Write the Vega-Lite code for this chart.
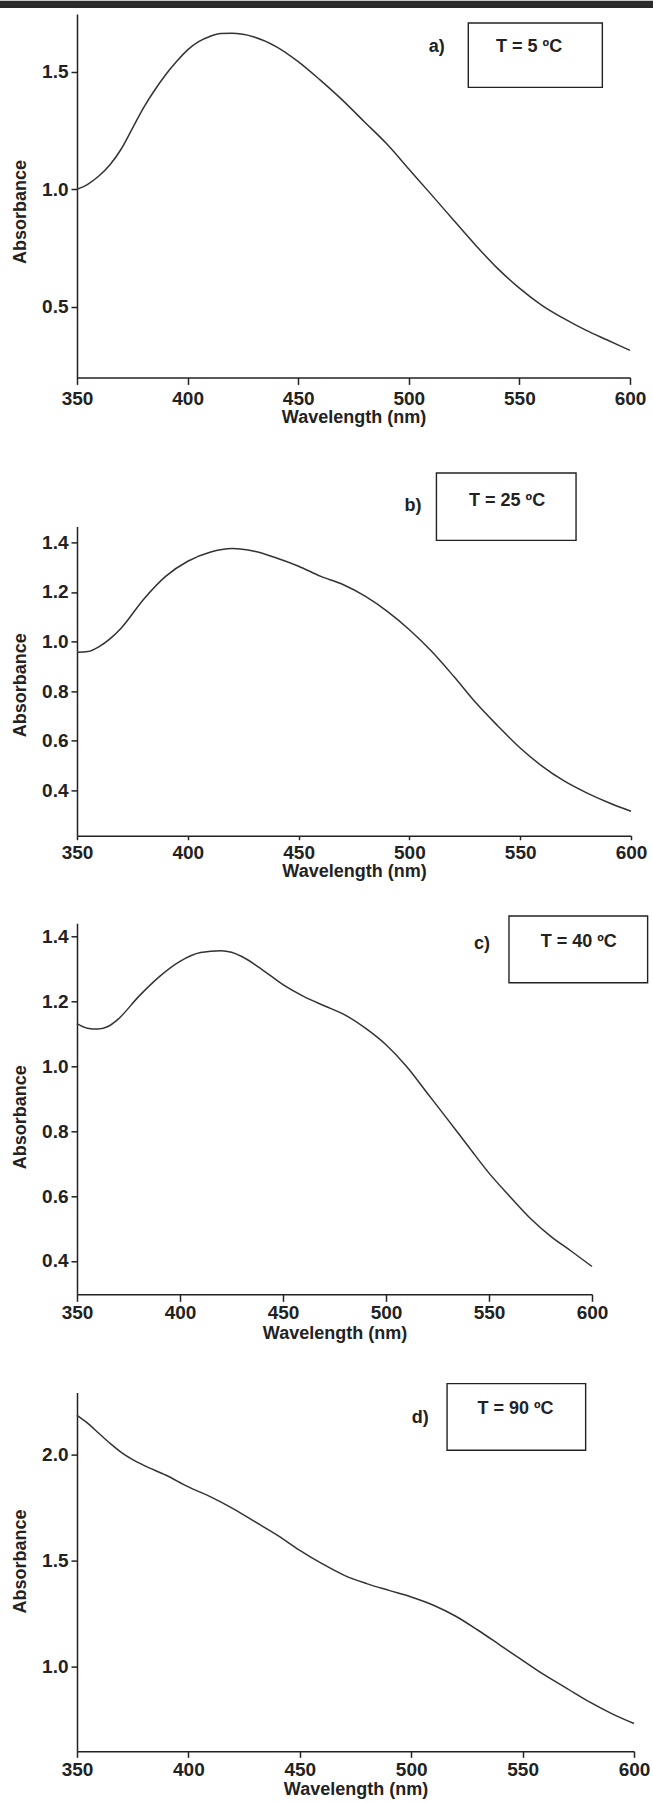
{
  "$schema": "https://vega.github.io/schema/vega-lite/v6.json",
  "background": "white",
  "padding": {"left": 0, "top": 0, "right": 0, "bottom": 0},
  "autosize": {"type": "pad"},
  "config": {
    "view": {"stroke": null},
    "font": "Liberation Sans",
    "axis": {
      "grid": false,
      "domainColor": "#222",
      "domainWidth": 1.5,
      "tickColor": "#222",
      "tickWidth": 1.5,
      "labelFont": "Liberation Sans",
      "labelFontSize": 19,
      "labelFontWeight": "bold",
      "labelColor": "#222",
      "labelFlush": false,
      "titleFont": "Liberation Sans",
      "titleFontSize": 18,
      "titleFontWeight": "bold",
      "titleColor": "#222"
    }
  },
  "datasets": {
    "a": [
      {"wl": 350, "abs": 1.0}, {"wl": 355, "abs": 1.022}, {"wl": 360, "abs": 1.057}, {"wl": 365, "abs": 1.105},
      {"wl": 370, "abs": 1.171}, {"wl": 375, "abs": 1.258}, {"wl": 380, "abs": 1.345}, {"wl": 385, "abs": 1.42},
      {"wl": 390, "abs": 1.486}, {"wl": 395, "abs": 1.543}, {"wl": 400, "abs": 1.593}, {"wl": 405, "abs": 1.628},
      {"wl": 410, "abs": 1.65}, {"wl": 415, "abs": 1.663}, {"wl": 420, "abs": 1.664}, {"wl": 425, "abs": 1.659},
      {"wl": 430, "abs": 1.648}, {"wl": 440, "abs": 1.607}, {"wl": 450, "abs": 1.543}, {"wl": 460, "abs": 1.464},
      {"wl": 470, "abs": 1.379}, {"wl": 480, "abs": 1.286}, {"wl": 490, "abs": 1.193}, {"wl": 500, "abs": 1.086},
      {"wl": 510, "abs": 0.979}, {"wl": 520, "abs": 0.871}, {"wl": 530, "abs": 0.764}, {"wl": 540, "abs": 0.664},
      {"wl": 550, "abs": 0.579}, {"wl": 560, "abs": 0.507}, {"wl": 570, "abs": 0.45}, {"wl": 580, "abs": 0.40},
      {"wl": 590, "abs": 0.357}, {"wl": 600, "abs": 0.314}
    ],
    "b": [
      {"wl": 350, "abs": 0.957}, {"wl": 355, "abs": 0.96}, {"wl": 360, "abs": 0.98}, {"wl": 365, "abs": 1.012},
      {"wl": 370, "abs": 1.055}, {"wl": 380, "abs": 1.17}, {"wl": 390, "abs": 1.263}, {"wl": 400, "abs": 1.324},
      {"wl": 410, "abs": 1.36}, {"wl": 420, "abs": 1.375}, {"wl": 430, "abs": 1.364}, {"wl": 440, "abs": 1.337},
      {"wl": 450, "abs": 1.304}, {"wl": 460, "abs": 1.263}, {"wl": 470, "abs": 1.23}, {"wl": 480, "abs": 1.183},
      {"wl": 490, "abs": 1.122}, {"wl": 500, "abs": 1.048}, {"wl": 510, "abs": 0.961}, {"wl": 520, "abs": 0.86},
      {"wl": 530, "abs": 0.753}, {"wl": 540, "abs": 0.659}, {"wl": 550, "abs": 0.571}, {"wl": 560, "abs": 0.497},
      {"wl": 570, "abs": 0.437}, {"wl": 580, "abs": 0.39}, {"wl": 590, "abs": 0.35}, {"wl": 600, "abs": 0.316}
    ],
    "c": [
      {"wl": 350, "abs": 1.132}, {"wl": 355, "abs": 1.118}, {"wl": 360, "abs": 1.115}, {"wl": 365, "abs": 1.123},
      {"wl": 370, "abs": 1.146}, {"wl": 380, "abs": 1.216}, {"wl": 390, "abs": 1.277}, {"wl": 400, "abs": 1.324},
      {"wl": 410, "abs": 1.351}, {"wl": 420, "abs": 1.357}, {"wl": 425, "abs": 1.352}, {"wl": 430, "abs": 1.339},
      {"wl": 440, "abs": 1.298}, {"wl": 450, "abs": 1.252}, {"wl": 460, "abs": 1.216}, {"wl": 470, "abs": 1.187},
      {"wl": 480, "abs": 1.159}, {"wl": 490, "abs": 1.118}, {"wl": 500, "abs": 1.067}, {"wl": 510, "abs": 1.0},
      {"wl": 520, "abs": 0.918}, {"wl": 530, "abs": 0.836}, {"wl": 540, "abs": 0.753}, {"wl": 550, "abs": 0.671},
      {"wl": 560, "abs": 0.6}, {"wl": 570, "abs": 0.532}, {"wl": 580, "abs": 0.476}, {"wl": 590, "abs": 0.43},
      {"wl": 600, "abs": 0.383}
    ],
    "d": [
      {"wl": 350, "abs": 2.184}, {"wl": 355, "abs": 2.145}, {"wl": 360, "abs": 2.097}, {"wl": 365, "abs": 2.05},
      {"wl": 370, "abs": 2.008}, {"wl": 375, "abs": 1.975}, {"wl": 380, "abs": 1.948}, {"wl": 390, "abs": 1.901},
      {"wl": 400, "abs": 1.846}, {"wl": 410, "abs": 1.799}, {"wl": 420, "abs": 1.744}, {"wl": 430, "abs": 1.681},
      {"wl": 440, "abs": 1.618}, {"wl": 450, "abs": 1.547}, {"wl": 460, "abs": 1.484}, {"wl": 470, "abs": 1.429},
      {"wl": 480, "abs": 1.39}, {"wl": 490, "abs": 1.358}, {"wl": 500, "abs": 1.327}, {"wl": 510, "abs": 1.288},
      {"wl": 520, "abs": 1.236}, {"wl": 530, "abs": 1.17}, {"wl": 540, "abs": 1.099}, {"wl": 550, "abs": 1.028},
      {"wl": 560, "abs": 0.958}, {"wl": 570, "abs": 0.895}, {"wl": 580, "abs": 0.832}, {"wl": 590, "abs": 0.777},
      {"wl": 600, "abs": 0.73}
    ]
  },
  "spacing": 34.3,
  "vconcat": [
    {
      "spacing": 44.4,
      "vconcat": [
        {
          "width": 553,
          "height": 363.4,
          "layer": [
            {
              "data": {"name": "a"},
              "mark": {"type": "line", "color": "#333", "strokeWidth": 1.5, "interpolate": "monotone"},
              "encoding": {
                "x": {"field": "wl", "type": "quantitative", "scale": {"domain": [350, 600], "nice": false, "zero": false},
                      "axis": {"values": [350, 400, 450, 500, 550, 600], "format": "d", "tickSize": 7, "labelPadding": 5, "titlePadding": 0.2}, "title": "Wavelength (nm)"},
                "y": {"field": "abs", "type": "quantitative", "scale": {"domain": [0.1991, 1.7455], "nice": false, "zero": false},
                      "axis": {"values": [0.5, 1.0, 1.5], "format": ".1f", "tickSize": 6, "labelPadding": 3, "titlePadding": 12.4, "titleY": 197.5}, "title": "Absorbance"}
              }
            },
            {
              "data": {"values": [{"part": "bar"}]},
              "mark": {"type": "rect", "color": "#2b2b2b"},
              "encoding": {
                "x": {"datum": 315.19, "type": "quantitative", "title": "Wavelength (nm)"},
                "x2": {"datum": 610.4},
                "y": {"datum": 1.8021, "type": "quantitative", "title": "Absorbance"},
                "y2": {"datum": 1.771}
              }
            },
            {
              "data": {"values": [{"part": "box"}]},
              "mark": {"type": "rect", "fillOpacity": 0, "stroke": "#222", "strokeWidth": 1.4},
              "encoding": {
                "x": {"datum": 526.9, "type": "quantitative", "title": "Wavelength (nm)"},
                "x2": {"datum": 587.5},
                "y": {"datum": 1.7072, "type": "quantitative", "title": "Absorbance"},
                "y2": {"datum": 1.4332}
              }
            },
            {
              "data": {"values": [{"label": "a)"}]},
              "mark": {"type": "text", "font": "Liberation Sans", "fontSize": 18, "fontWeight": "bold", "color": "#222", "align": "center", "baseline": "alphabetic"},
              "encoding": {
                "x": {"datum": 512.6, "type": "quantitative", "title": "Wavelength (nm)"},
                "y": {"datum": 1.5838, "type": "quantitative", "title": "Absorbance"},
                "text": {"field": "label"}
              }
            },
            {
              "data": {"values": [{"label": "T = 5 ºC"}]},
              "mark": {"type": "text", "font": "Liberation Sans", "fontSize": 18, "fontWeight": "bold", "color": "#222", "align": "center", "baseline": "alphabetic"},
              "encoding": {
                "x": {"datum": 554.4, "type": "quantitative", "title": "Wavelength (nm)"},
                "y": {"datum": 1.585, "type": "quantitative", "title": "Absorbance"},
                "text": {"field": "label"}
              }
            }
          ]
        },
        {
          "width": 554,
          "height": 309.3,
          "layer": [
            {
              "data": {"name": "b"},
              "mark": {"type": "line", "color": "#333", "strokeWidth": 1.5, "interpolate": "monotone"},
              "encoding": {
                "x": {"field": "wl", "type": "quantitative", "scale": {"domain": [350, 600], "nice": false, "zero": false},
                      "axis": {"values": [350, 400, 450, 500, 550, 600], "format": "d", "tickSize": 4, "labelPadding": 4, "titlePadding": 0}, "title": "Wavelength (nm)"},
                "y": {"field": "abs", "type": "quantitative", "scale": {"domain": [0.2173, 1.4645], "nice": false, "zero": false},
                      "axis": {"values": [0.4, 0.6, 0.8, 1.0, 1.2, 1.4], "format": ".1f", "tickSize": 6, "labelPadding": 3, "titlePadding": 12.4, "titleY": 158.3}, "title": "Absorbance"}
              }
            },
            {
              "data": {"values": [{"part": "box"}]},
              "mark": {"type": "rect", "fillOpacity": 0, "stroke": "#222", "strokeWidth": 1.4},
              "encoding": {
                "x": {"datum": 512.2, "type": "quantitative", "title": "Wavelength (nm)"},
                "x2": {"datum": 575.2},
                "y": {"datum": 1.6798, "type": "quantitative", "title": "Absorbance"},
                "y2": {"datum": 1.408}
              }
            },
            {
              "data": {"values": [{"label": "b)"}]},
              "mark": {"type": "text", "font": "Liberation Sans", "fontSize": 18, "fontWeight": "bold", "color": "#222", "align": "center", "baseline": "alphabetic"},
              "encoding": {
                "x": {"datum": 501.6, "type": "quantitative", "title": "Wavelength (nm)"},
                "y": {"datum": 1.5278, "type": "quantitative", "title": "Absorbance"},
                "text": {"field": "label"}
              }
            },
            {
              "data": {"values": [{"label": "T = 25 ºC"}]},
              "mark": {"type": "text", "font": "Liberation Sans", "fontSize": 18, "fontWeight": "bold", "color": "#222", "align": "center", "baseline": "alphabetic"},
              "encoding": {
                "x": {"datum": 544.1, "type": "quantitative", "title": "Wavelength (nm)"},
                "y": {"datum": 1.5451, "type": "quantitative", "title": "Absorbance"},
                "text": {"field": "label"}
              }
            }
          ]
        }
      ]
    },
    {
      "spacing": 39.3,
      "vconcat": [
        {
          "width": 515,
          "height": 371,
          "layer": [
            {
              "data": {"name": "c"},
              "mark": {"type": "line", "color": "#333", "strokeWidth": 1.5, "interpolate": "monotone"},
              "encoding": {
                "x": {"field": "wl", "type": "quantitative", "scale": {"domain": [350, 600], "nice": false, "zero": false},
                      "axis": {"values": [350, 400, 450, 500, 550, 600], "format": "d", "tickSize": 7, "labelPadding": 2.4, "titlePadding": 2}, "title": "Wavelength (nm)"},
                "y": {"field": "abs", "type": "quantitative", "scale": {"domain": [0.2973, 1.4413], "nice": false, "zero": false},
                      "axis": {"values": [0.4, 0.6, 0.8, 1.0, 1.2, 1.4], "format": ".1f", "tickSize": 6, "labelPadding": 3, "titlePadding": 12.4, "titleY": 193.4}, "title": "Absorbance"}
              }
            },
            {
              "data": {"values": [{"part": "box"}]},
              "mark": {"type": "rect", "fillOpacity": 0, "stroke": "#222", "strokeWidth": 1.4},
              "encoding": {
                "x": {"datum": 559.7, "type": "quantitative", "title": "Wavelength (nm)"},
                "x2": {"datum": 627},
                "y": {"datum": 1.4638, "type": "quantitative", "title": "Absorbance"},
                "y2": {"datum": 1.2581}
              }
            },
            {
              "data": {"values": [{"label": "c)"}]},
              "mark": {"type": "text", "font": "Liberation Sans", "fontSize": 18, "fontWeight": "bold", "color": "#222", "align": "center", "baseline": "alphabetic"},
              "encoding": {
                "x": {"datum": 546.6, "type": "quantitative", "title": "Wavelength (nm)"},
                "y": {"datum": 1.362, "type": "quantitative", "title": "Absorbance"},
                "text": {"field": "label"}
              }
            },
            {
              "data": {"values": [{"label": "T = 40 ºC"}]},
              "mark": {"type": "text", "font": "Liberation Sans", "fontSize": 18, "fontWeight": "bold", "color": "#222", "align": "center", "baseline": "alphabetic"},
              "encoding": {
                "x": {"datum": 593.6, "type": "quantitative", "title": "Wavelength (nm)"},
                "y": {"datum": 1.3691, "type": "quantitative", "title": "Absorbance"},
                "text": {"field": "label"}
              }
            }
          ]
        },
        {
          "width": 557,
          "height": 358.7,
          "layer": [
            {
              "data": {"name": "d"},
              "mark": {"type": "line", "color": "#333", "strokeWidth": 1.5, "interpolate": "monotone"},
              "encoding": {
                "x": {"field": "wl", "type": "quantitative", "scale": {"domain": [350, 600], "nice": false, "zero": false},
                      "axis": {"values": [350, 400, 450, 500, 550, 600], "format": "d", "tickSize": 6, "labelPadding": 3.3, "titlePadding": 1}, "title": "Wavelength (nm)"},
                "y": {"field": "abs", "type": "quantitative", "scale": {"domain": [0.599, 2.291], "nice": false, "zero": false},
                      "axis": {"values": [1.0, 1.5, 2.0], "format": ".1f", "tickSize": 6, "labelPadding": 3, "titlePadding": 12.4, "titleY": 168.5}, "title": "Absorbance"}
              }
            },
            {
              "data": {"values": [{"part": "box"}]},
              "mark": {"type": "rect", "fillOpacity": 0, "stroke": "#222", "strokeWidth": 1.4},
              "encoding": {
                "x": {"datum": 516.1, "type": "quantitative", "title": "Wavelength (nm)"},
                "x2": {"datum": 578.3},
                "y": {"datum": 2.3335, "type": "quantitative", "title": "Absorbance"},
                "y2": {"datum": 2.0188}
              }
            },
            {
              "data": {"values": [{"label": "d)"}]},
              "mark": {"type": "text", "font": "Liberation Sans", "fontSize": 18, "fontWeight": "bold", "color": "#222", "align": "center", "baseline": "alphabetic"},
              "encoding": {
                "x": {"datum": 504.1, "type": "quantitative", "title": "Wavelength (nm)"},
                "y": {"datum": 2.1471, "type": "quantitative", "title": "Absorbance"},
                "text": {"field": "label"}
              }
            },
            {
              "data": {"values": [{"label": "T = 90 ºC"}]},
              "mark": {"type": "text", "font": "Liberation Sans", "fontSize": 18, "fontWeight": "bold", "color": "#222", "align": "center", "baseline": "alphabetic"},
              "encoding": {
                "x": {"datum": 546.8, "type": "quantitative", "title": "Wavelength (nm)"},
                "y": {"datum": 2.192, "type": "quantitative", "title": "Absorbance"},
                "text": {"field": "label"}
              }
            }
          ]
        }
      ]
    }
  ]
}
